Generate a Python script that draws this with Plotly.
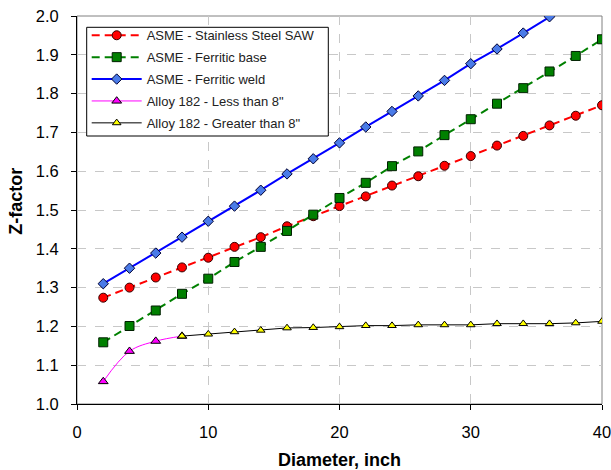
import plotly.graph_objects as go

x_all = [2, 4, 6, 8, 10, 12, 14, 16, 18, 20, 22, 24, 26, 28, 30, 32, 34, 36, 38, 40]
ss_saw = [1.274, 1.300, 1.326, 1.352, 1.377, 1.405, 1.430, 1.458, 1.484, 1.510,
          1.535, 1.563, 1.587, 1.614, 1.639, 1.666, 1.691, 1.718, 1.743, 1.770]
ferritic_base = [1.159, 1.201, 1.241, 1.284, 1.323, 1.366, 1.405, 1.446, 1.488, 1.531,
                 1.570, 1.613, 1.651, 1.693, 1.734, 1.774, 1.814, 1.857, 1.897, 1.940]
ferritic_weld = [1.310, 1.350, 1.389, 1.430, 1.471, 1.510, 1.551, 1.593, 1.632, 1.673,
                 1.714, 1.754, 1.794, 1.834, 1.877, 1.915, 1.956, 1.998, 2.040, 2.080]
x_less = [2, 4, 6, 8]
alloy_less = [1.058, 1.136, 1.162, 1.175]
x_greater = [8, 10, 12, 14, 16, 18, 20, 22, 24, 26, 28, 30, 32, 34, 36, 38, 40]
alloy_greater = [1.175, 1.180, 1.186, 1.190, 1.196, 1.197, 1.199, 1.202, 1.202, 1.204,
                 1.204, 1.204, 1.207, 1.207, 1.207, 1.209, 1.213]
x_ticks = [0, 10, 20, 30, 40]

FONT = "Arial, Liberation Sans, sans-serif"
fig = go.Figure()

fig.add_trace(go.Scatter(
    x=x_all, y=ss_saw, name="ASME - Stainless Steel SAW", mode="lines+markers",
    legendgroup="a",
    line=dict(color="#FF0000", width=2, dash="8px,5px"),
    marker=dict(symbol="circle", size=9, color="#FF0000", line=dict(color="#330000", width=1))))
fig.add_trace(go.Scatter(
    x=x_all, y=ferritic_base, name="ASME - Ferritic base", mode="lines+markers",
    legendgroup="b",
    line=dict(color="#008000", width=2, dash="8px,5px"),
    marker=dict(symbol="square", size=9, color="#008000", line=dict(color="#002000", width=1))))
fig.add_trace(go.Scatter(
    x=x_all, y=ferritic_weld, name="ASME - Ferritic weld", mode="lines+markers",
    legendgroup="c",
    line=dict(color="#0000FF", width=2),
    marker=dict(symbol="diamond", size=8, color="#4A7BE8", line=dict(color="#000033", width=1))))
fig.add_trace(go.Scatter(
    x=x_less, y=alloy_less, name="Alloy 182 - Less than 8\"", mode="lines+markers",
    legendgroup="d",
    line=dict(color="#FF00FF", width=1, shape="spline"),
    marker=dict(symbol="triangle-up", size=8.5, color="#FF00FF", line=dict(color="#000000", width=1))))
fig.add_trace(go.Scatter(
    x=x_greater, y=alloy_greater, name="Alloy 182 - Greater than 8\"", mode="lines+markers",
    legendgroup="e",
    line=dict(color="#000000", width=1),
    marker=dict(symbol="triangle-up", size=7.5, color="#FFFF00", line=dict(color="#000000", width=1))))

# legend frame position in pixels of the plot area (plot area: 77..602 x 16..404)
PW, PH, L, T = 525.0, 388.0, 77.0, 16.0
def px(x):
    return (x - L) / PW
def py(y):
    return 1 - (y - T) / PH

fig.update_layout(
    width=611, height=470,
    margin=dict(l=77, r=9, t=16, b=66, autoexpand=False),
    paper_bgcolor="white", plot_bgcolor="white",
    font=dict(family=FONT, size=16.5, color="#000000"),
    showlegend=True,
    legend=dict(
        x=px(86.7), y=py(20.3), xanchor="left", yanchor="top",
        bgcolor="rgba(0,0,0,0)", borderwidth=0,
        font=dict(family=FONT, size=13, color="#222222"),
        itemwidth=50, tracegroupgap=2,
    ),
    xaxis=dict(
        range=[0, 40], tickvals=x_ticks, automargin=False, ticklabeloverflow="allow",
        showline=True, linecolor="#000000", linewidth=1,
        ticks="outside", ticklen=5, tickcolor="#000000", ticklabelstandoff=8,
        showgrid=True, gridcolor="#C8C8C8", griddash="dash", gridwidth=1,
        zeroline=False,
    ),
    yaxis=dict(
        range=[1.0, 2.0], dtick=0.1, tick0=1.0, tickformat=".1f", automargin=False,
        ticklabeloverflow="allow",
        showline=True, linecolor="#000000", linewidth=1,
        ticks="outside", ticklen=5, tickcolor="#000000", ticklabelstandoff=9,
        showgrid=True, gridcolor="#C8C8C8", griddash="dash", gridwidth=1,
        zeroline=False,
    ),
    shapes=[
        dict(type="rect", xref="paper", yref="paper", x0=0, y0=0, x1=1, y1=1,
             line=dict(color="#808080", width=1), layer="below"),
        dict(type="rect", xref="paper", yref="paper",
             x0=px(86.7), x1=px(328.3), y0=py(136), y1=py(27.3),
             fillcolor="white", line=dict(color="#000000", width=1), layer="above"),
    ],
    annotations=[
        dict(text="<b>Diameter, inch</b>", xref="paper", yref="paper", x=0.5, y=0,
             xanchor="center", yanchor="middle", yshift=-56, showarrow=False,
             font=dict(family=FONT, size=18, color="#000000")),
        dict(text="<b>Z-factor</b>", xref="paper", yref="paper", x=0, y=0.521,
             xanchor="center", yanchor="middle", xshift=-61, textangle=-90, showarrow=False,
             font=dict(family=FONT, size=18, color="#000000")),
    ],
)

fig.write_html("out.html")
